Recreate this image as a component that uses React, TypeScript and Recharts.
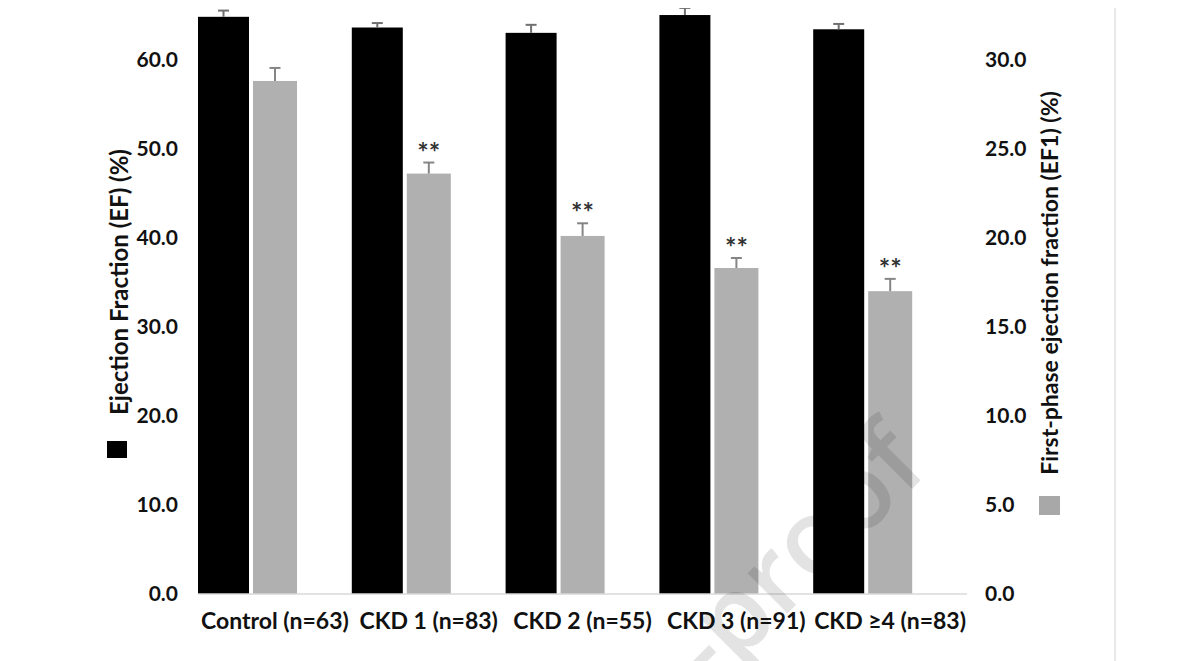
import { BarChart, Bar, XAxis, YAxis } from "recharts";

const categories = [
  "Control (n=63)",
  "CKD 1 (n=83)",
  "CKD 2 (n=55)",
  "CKD 3 (n=91)",
  "CKD ≥4 (n=83)",
];
// EF (%), left axis
const efValues = [64.8, 63.6, 63.0, 65.0, 63.4];
const efErrors = [0.7, 0.5, 0.9, 0.8, 0.6];
// EF1 (%), right axis
const ef1Values = [28.8, 23.6, 20.1, 18.3, 17.0];
const ef1Errors = [0.73, 0.62, 0.71, 0.56, 0.69];
const significance = ["", "**", "**", "**", "**"];

const leftTicks = [0, 10, 20, 30, 40, 50, 60];
const rightTicks = [0, 5, 10, 15, 20, 25, 30];

const data = categories.map((name, i) => ({
  name,
  ef: efValues[i],
  efErr: efErrors[i],
  ef1: ef1Values[i],
  ef1Err: ef1Errors[i],
  sig: significance[i],
}));

const FONT = "Lato, 'Open Sans', sans-serif";
const tickStyle = { fontSize: 21, fontWeight: 700, fill: "#111", fontFamily: FONT };
const catStyle = { fontSize: 23, fontWeight: 700, fill: "#111", fontFamily: FONT };

// bar + upward error whisker (+ significance stars when present)
function barWithError(valueKey: string, errKey: string, whisker: string) {
  return (props: any) => {
    const { x, y, width, height, payload, fill } = props;
    const value = payload[valueKey];
    const perUnit = value ? height / value : 0;
    const top = y - payload[errKey] * perUnit;
    const cx = x + width / 2;
    return (
      <g>
        <rect x={x} y={y} width={width} height={height} fill={fill} />
        <line x1={cx} y1={y} x2={cx} y2={top} stroke={whisker} strokeWidth={2} />
        <line x1={cx - 5.5} y1={top} x2={cx + 5.5} y2={top} stroke={whisker} strokeWidth={2} />
        {payload.sig && valueKey === "ef1" ? (
          <text x={cx} y={top - 1} textAnchor="middle" fontSize={27} fontWeight={700} fill="#333" fontFamily={FONT}>
            {payload.sig}
          </text>
        ) : null}
      </g>
    );
  };
}

export default function App() {
  return (
    <div
      style={{
        position: "relative",
        width: 1200,
        height: 661,
        margin: "-8px 0 0 -8px",
        overflow: "hidden",
        background: "#fff",
        fontFamily: FONT,
      }}
    >
      <div style={{ position: "absolute", left: 0, top: -40 }}>
        <BarChart
          width={1200}
          height={701}
          data={data}
          margin={{ top: 10.5, right: 173, bottom: 37, left: 138 }}
          barGap={4}
        >
          <XAxis
            dataKey="name"
            interval={0}
            tickLine={false}
            tickSize={0}
            tickMargin={19}
            axisLine={{ stroke: "#d9d9d9", strokeWidth: 1.5 }}
            tick={catStyle}
          />
          <YAxis
            yAxisId="left"
            width={60}
            domain={[0, 70]}
            ticks={leftTicks}
            tickFormatter={(v) => v.toFixed(1)}
            axisLine={false}
            tickLine={false}
            tickSize={0}
            tickMargin={20}
            tick={tickStyle}
          />
          <YAxis
            yAxisId="right"
            orientation="right"
            width={60}
            domain={[0, 35]}
            ticks={rightTicks}
            tickFormatter={(v) => v.toFixed(1)}
            axisLine={false}
            tickLine={false}
            tickSize={0}
            tickMargin={18}
            tick={{ ...tickStyle, textAnchor: "start" }}
          />
          <Bar
            yAxisId="left"
            dataKey="ef"
            fill="#000"
            barSize={51}
            isAnimationActive={false}
            shape={barWithError("ef", "efErr", "#707070")}
          />
          <Bar
            yAxisId="right"
            dataKey="ef1"
            fill="#b0b0b0"
            barSize={44}
            isAnimationActive={false}
            shape={barWithError("ef1", "ef1Err", "#858585")}
          />
          {/* empty slot so the pair sits at the left of each category */}
          <Bar yAxisId="left" dataKey="gap" fill="none" barSize={50} isAnimationActive={false} />
        </BarChart>
      </div>

      <svg
        width={1200}
        height={661}
        style={{ position: "absolute", left: 0, top: 0, pointerEvents: "none" }}
      >
        <line x1={1115} y1={0} x2={1115} y2={661} stroke="#e8e8e8" strokeWidth={2} />
        <rect x={107} y={441} width={20} height={17} fill="#000" />
        <text
          x={118}
          y={282}
          transform="rotate(-90 118 282)"
          textAnchor="middle"
          dominantBaseline="central"
          fontSize={24}
          fontWeight={700}
          fill="#111"
          fontFamily={FONT}
        >
          Ejection Fraction (EF) (%)
        </text>
        <rect x={1039} y={496} width={21} height={19} fill="#a8a8a8" />
        <text
          x={1049}
          y={283}
          transform="rotate(-90 1049 283)"
          textAnchor="middle"
          dominantBaseline="central"
          fontSize={23}
          fontWeight={700}
          fill="#111"
          fontFamily={FONT}
        >
          First-phase ejection fraction (EF1) (%)
        </text>
        <text
          x={931}
          y={470}
          transform="rotate(-45 931 470)"
          textAnchor="end"
          fontSize={105}
          fontWeight={600}
          fill="#000"
          fillOpacity={0.11}
          fontFamily="'Open Sans', sans-serif"
        >
          Journal Pre-proof
        </text>
      </svg>
    </div>
  );
}
